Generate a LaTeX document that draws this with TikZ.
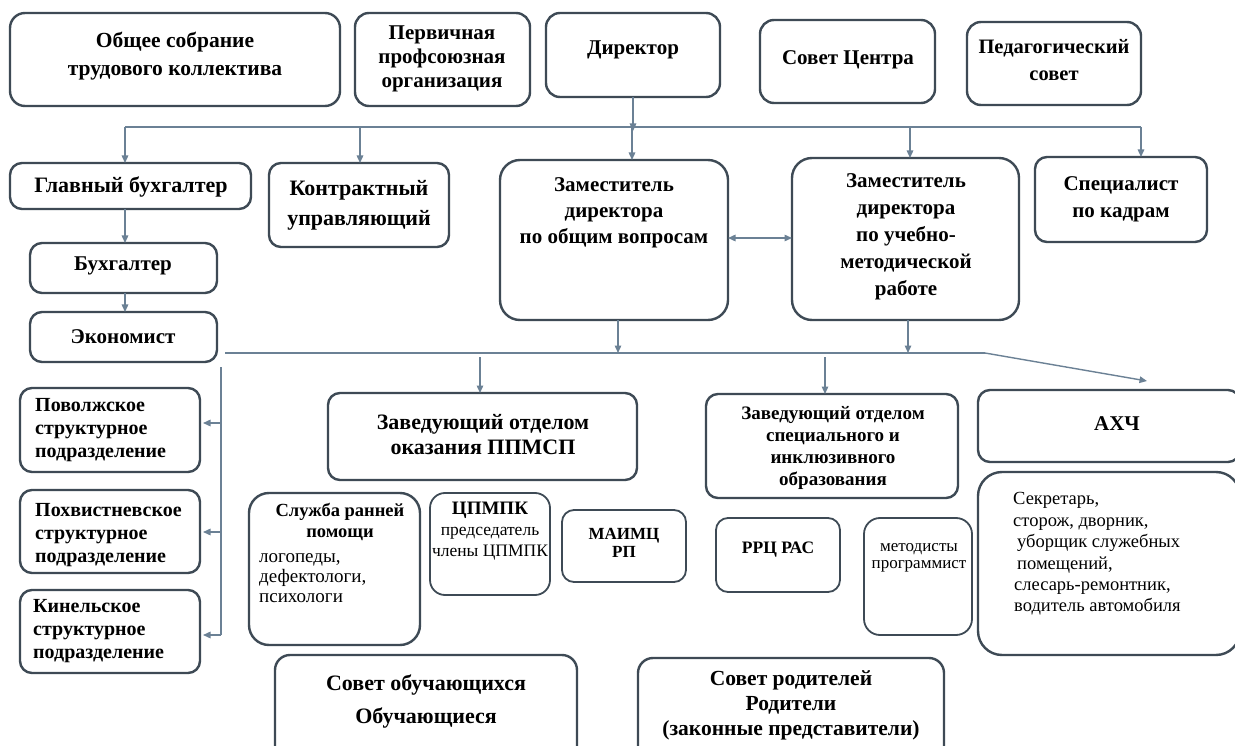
\documentclass[tikz,border=0pt]{standalone}
\usepackage{fontspec}
\setmainfont{Liberation Serif}
\usetikzlibrary{arrows.meta}
\definecolor{boxc}{HTML}{3E4A55}
\definecolor{arrc}{HTML}{6B8195}
\newcommand\fb[2]{\fontsize{#1}{#2}\selectfont\bfseries}
\newcommand\fr[2]{\fontsize{#1}{#2}\selectfont}
\newcommand\bx[6][]{\node[box, #1, anchor=north west, minimum width={(#5)-(#3)}, minimum height={(#6)-(#4)}] (#2) at (#3,#4) {};}
\tikzset{
  box/.style={draw=boxc, line width=2.4pt, rounded corners=12pt, fill=white, inner sep=0pt, outer sep=0pt},
  arr/.style={draw=arrc, line width=1.4pt, -{Triangle[length=7.5pt,width=6.5pt]}},
  dbl/.style={draw=arrc, line width=1.4pt, {Triangle[length=7.5pt,width=6.5pt]}-{Triangle[length=7.5pt,width=6.5pt]}},
  ln/.style={draw=arrc, line width=1.4pt},
  tx/.style={align=center, inner sep=0pt, text=black}
}
\begin{document}
\begin{tikzpicture}[x=1pt,y=-1pt]
\useasboundingbox[fill=white] (0,0) rectangle (1235,746);
% boxes
\bx[rounded corners=15pt]{obsh}{10}{13}{340}{106}
\bx[rounded corners=14pt]{perv}{355}{13}{530}{106}
\bx[rounded corners=14pt]{dir}{546}{13}{720}{97}
\bx[rounded corners=14pt]{sovc}{760}{20}{935}{103}
\bx[rounded corners=14pt]{ped}{967}{22}{1141}{105}
\bx{gb}{10}{163}{251}{209}
\bx{kon}{269}{163}{449}{247}
\bx[rounded corners=20pt]{zo}{500}{160}{728}{320}
\bx[rounded corners=20pt]{zu}{792}{158}{1019}{320}
\bx{spec}{1035}{157}{1207}{242}
\bx{buh}{30}{243}{217}{293}
\bx{eco}{30}{312}{217}{362}
\bx{pov}{20}{388}{200}{472}
\bx{poh}{20}{490}{200}{573}
\bx{kin}{20}{590}{200}{673}
\bx{ppm}{328}{393}{637}{480}
\bx[rounded corners=20pt]{slu}{249}{493}{420}{645}
\bx[rounded corners=15pt, line width=1.8pt]{cpm}{430}{493}{550}{595}
\bx[line width=1.8pt]{mai}{562}{510}{686}{582}
\bx{spo}{706}{394}{958}{498}
\bx[line width=1.8pt]{rrc}{716}{518}{840}{592}
\bx[rounded corners=16pt, line width=1.8pt]{met}{864}{518}{972}{635}
\bx{ahc}{978}{390}{1240}{462}
\bx[rounded corners=24pt]{sek}{978}{472}{1240}{655}
\bx[rounded corners=15pt]{sob}{275}{655}{577}{765}
\bx[rounded corners=15pt]{sro}{638}{658}{944}{765}
% texts
\node[tx, font=\fb{21.5}{28}] (obsht) at (175,56) {Общее собрание\\трудового коллектива};
\node[tx, font=\fb{21}{24}] (pervt) at (442,59) {Первичная\\профсоюзная\\организация};
\node[tx, font=\fb{21}{24}] (dirt) at (633,50) {Директор};
\node[tx, font=\fb{21}{24}] (sovct) at (848,60) {Совет Центра};
\node[tx, font=\fb{20.5}{27}] (pedt) at (1054,60) {Педагогический\\совет};
\node[tx, font=\fb{22}{24}] (gbt) at (131,187) {Главный бухгалтер};
\node[tx, font=\fb{22}{30}] (kont) at (359,205) {Контрактный\\управляющий};
\node[tx, font=\fb{21}{26}] (zot) at (614,213) {Заместитель\\директора\\по общим вопросам};
\node[tx, font=\fb{21}{27}] (zut) at (906,237) {Заместитель\\директора\\по учебно-\\методической\\работе};
\node[tx, font=\fb{21}{27}] (spect) at (1121,199) {Специалист\\по кадрам};
\node[tx, font=\fb{21}{24}] (buht) at (123,266) {Бухгалтер};
\node[tx, font=\fb{21}{24}] (ecot) at (123,337) {Экономист};
\node[tx, font=\fb{20}{23}, align=left, anchor=west] (povt) at (35,430) {Поволжское\\структурное\\подразделение};
\node[tx, font=\fb{20}{23}, align=left, anchor=west] (poht) at (35,535) {Похвистневское\\структурное\\подразделение};
\node[tx, font=\fb{20}{23}, align=left, anchor=west] (kint) at (33,631) {Кинельское\\структурное\\подразделение};
\node[tx, font=\fb{22}{25}] (ppmt) at (483,435) {Заведующий отделом\\оказания ППМСП};
\node[tx, font=\fb{18.5}{21}] (slut) at (340,522) {Служба ранней\\помощи};
\node[tx, font=\fr{19}{20}, align=left, anchor=west] (slut2) at (259,578) {логопеды,\\дефектологи,\\психологи};
\node[tx, font=\fr{17.5}{21}] (cpmt) at (490,531) {{\fb{19}{21}ЦПМПК}\\председатель\\члены ЦПМПК};
\node[tx, font=\fb{17}{18}] (mait) at (624,543) {МАИМЦ\\РП};
\node[tx, font=\fb{19}{22}] (spot) at (833,448) {Заведующий отделом\\специального и\\инклюзивного\\образования};
\node[tx, font=\fb{17.5}{20}] (rrct) at (778,550) {РРЦ РАС};
\node[tx, font=\fr{17}{17.5}] (mett) at (919,558) {методисты\\программист};
\node[tx, font=\fb{21}{24}] (ahct) at (1117,424) {АХЧ};
\node[tx, font=\fr{18.5}{21.4}, align=left, anchor=west] (sekt) at (1013,554) {Секретарь,\\сторож, дворник,\\\hspace*{4pt}уборщик служебных\\\hspace*{4pt}помещений,\\\hspace*{1pt}слесарь-ремонтник,\\\hspace*{1pt}водитель автомобиля};
\node[tx, font=\fb{22}{33}] (sobt) at (426,701) {Совет обучающихся\\Обучающиеся};
\node[tx, font=\fb{21.5}{25}] (srot) at (791,705) {Совет родителей\\Родители\\(законные представители)};
% upper bus
\coordinate (b1l) at (125,127);
\coordinate (b1r) at (1141,127);
\coordinate (b1kon) at (360,127);
\coordinate (b1zo) at (632,127);
\coordinate (b1zu) at (910,127);
\draw[arr] (dir.south) -- ([yshift=-4pt]dir.south |- b1l);
\draw[ln] (b1l) -- (b1r);
\draw[arr] (b1l) -- (b1l |- gb.north);
\draw[arr] (b1kon) -- (b1kon |- kon.north);
\draw[arr] (b1zo) -- (b1zo |- zo.north);
\draw[arr] (b1zu) -- (b1zu |- zu.north);
\draw[arr] (b1r) -- (b1r |- spec.north);
\draw[arr] (gb.south -| b1l) -- (b1l |- buh.north);
\draw[arr] (buh.south -| b1l) -- (b1l |- eco.north);
\draw[dbl] (zo.east |- 0,238) -- (zu.west |- 0,238);
% lower bus
\coordinate (b2l) at (225,353);
\coordinate (b2r) at (985,353);
\coordinate (b2zo) at (618,353);
\coordinate (b2zu) at (908,353);
\coordinate (b2ppm) at (480,357);
\coordinate (b2spo) at (825,357);
\coordinate (ahtip) at (1147,381);
\draw[ln] (b2l) -- (b2r);
\draw[arr] (b2r) -- (ahtip);
\draw[arr] (zo.south -| b2zo) -- (b2zo);
\draw[arr] (zu.south -| b2zu) -- (b2zu);
\draw[arr] (b2ppm) -- (b2ppm |- ppm.north);
\draw[arr] (b2spo) -- (b2spo |- spo.north);
% left vertical
\coordinate (vt) at (221,367);
\coordinate (vb) at (221,635);
\draw[ln] (vt) -- (vb);
\draw[arr] (vt |- 0,423) -- ([xshift=3pt]pov.east |- 0,423);
\draw[arr] (vt |- 0,532) -- ([xshift=3pt]poh.east |- 0,532);
\draw[arr] (vb) -- ([xshift=3pt]kin.east |- vb);
\end{tikzpicture}
\end{document}
